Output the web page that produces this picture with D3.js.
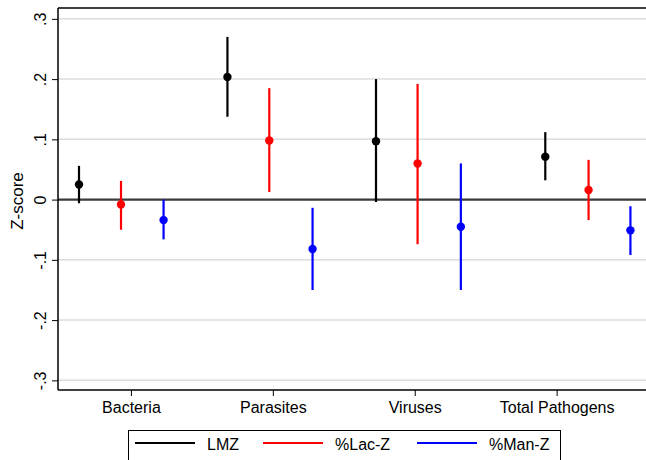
<!DOCTYPE html>
<html><head><meta charset="utf-8">
<script src="https://cdn.jsdelivr.net/npm/d3@7/dist/d3.min.js"></script>
<style>body{margin:0;background:#fff}svg{display:block}text{font-family:"Liberation Sans",Arial,sans-serif}</style>
</head><body>
<script>
const categories = ["Bacteria", "Parasites", "Viruses", "Total Pathogens"];
const categoryPos = [1, 2, 3, 4];
const yTicks = [-0.3, -0.2, -0.1, 0, 0.1, 0.2, 0.3];
const yTickLabels = ["-.3", "-.2", "-.1", "0", ".1", ".2", ".3"];
const seriesNames = ["LMZ", "%Lac-Z", "%Man-Z"];
const seriesColors = ["#000000", "#ff0000", "#0000ff"];
// x positions of each marker (axis units), per series
const lmzX = [0.634, 1.68, 2.727, 3.92];
const lacX = [0.93, 1.975, 3.02, 4.225];
const manX = [1.23, 2.28, 3.325, 4.52];
// estimates, lower and upper bounds
const lmzVal = [0.025, 0.2035, 0.097, 0.071];
const lmzLo = [-0.006, 0.1375, -0.004, 0.032];
const lmzHi = [0.056, 0.27, 0.2, 0.112];
const lacVal = [-0.008, 0.098, 0.060, 0.016];
const lacLo = [-0.050, 0.0125, -0.074, -0.034];
const lacHi = [0.031, 0.185, 0.192, 0.066];
const manVal = [-0.034, -0.082, -0.045, -0.051];
const manLo = [-0.066, -0.150, -0.150, -0.092];
const manHi = [0.0, -0.0136, 0.060, -0.011];

const W = 646, H = 460;
const L = 58, R = 646, T = 8, B = 390;
const svg = d3.select("body").append("svg").attr("width", W).attr("height", H);

const x = d3.scaleLinear().domain([0.486, 0.486 + (R - L) / 141.9]).range([L, R]);
const y = d3.scaleLinear().domain([-0.316, 0.318]).range([B, T]);

// gridlines
svg.append("g").selectAll("line").data(yTicks.filter(d => d !== 0)).join("line")
  .attr("x1", L).attr("x2", R).attr("y1", d => y(d)).attr("y2", d => y(d))
  .attr("stroke", "#dcdcdc").attr("stroke-width", 1.5);

// zero line
svg.append("line").attr("x1", L).attr("x2", R).attr("y1", y(0)).attr("y2", y(0))
  .attr("stroke", "#3a3a3a").attr("stroke-width", 2.2);

// top border
svg.append("line").attr("x1", L).attr("x2", R).attr("y1", T).attr("y2", T)
  .attr("stroke", "#000").attr("stroke-width", 1.5);

// Y axis
const yAxis = d3.axisLeft(y).tickValues(yTicks).tickFormat((d, i) => yTickLabels[i]).tickSize(6).tickPadding(4);
const gy = svg.append("g").attr("transform", `translate(${L},0)`).call(yAxis);
gy.select(".domain").attr("stroke", "#000").attr("stroke-width", 1.5).attr("d", `M0,${T}V${B}`);
gy.selectAll(".tick line").attr("stroke", "#000").attr("stroke-width", 1);
gy.selectAll(".tick text")
  .attr("font-size", 16).attr("fill", "#000")
  .attr("transform", "rotate(-90)")
  .attr("x", 0).attr("y", -12).attr("dy", "0")
  .attr("text-anchor", "middle");

// X axis
const xAxis = d3.axisBottom(x).tickValues(categoryPos).tickFormat((d, i) => categories[i]).tickSize(6).tickPadding(6);
const gx = svg.append("g").attr("transform", `translate(0,${B})`).call(xAxis);
gx.select(".domain").attr("stroke", "#000").attr("stroke-width", 1.5).attr("d", `M${L},0H${R}`);
gx.selectAll(".tick line").attr("stroke", "#000").attr("stroke-width", 1);
gx.selectAll(".tick text").attr("font-size", 16).attr("fill", "#000");

// Y label
svg.append("text").attr("transform", `translate(23,${(T + B) / 2 + 2}) rotate(-90)`)
  .attr("text-anchor", "middle").attr("font-size", 17).attr("fill", "#000").text("Z-score");

// series
const series = [
  { xs: lmzX, v: lmzVal, lo: lmzLo, hi: lmzHi },
  { xs: lacX, v: lacVal, lo: lacLo, hi: lacHi },
  { xs: manX, v: manVal, lo: manLo, hi: manHi }
];
series.forEach((s, si) => {
  const g = svg.append("g");
  const data = s.v.map((v, i) => ({ x: s.xs[i], v, lo: s.lo[i], hi: s.hi[i] }));
  g.selectAll("line").data(data).join("line")
    .attr("x1", d => x(d.x)).attr("x2", d => x(d.x))
    .attr("y1", d => y(d.lo)).attr("y2", d => y(d.hi))
    .attr("stroke", seriesColors[si]).attr("stroke-width", 2.2);
  g.selectAll("circle").data(data).join("circle")
    .attr("cx", d => x(d.x)).attr("cy", d => y(d.v)).attr("r", 4.2)
    .attr("fill", seriesColors[si]);
});

// legend
const lg = svg.append("g");
lg.append("rect").attr("x", 128.5).attr("y", 430.5).attr("width", 432).attr("height", 40)
  .attr("fill", "#fff").attr("stroke", "#000").attr("stroke-width", 1);
const legX = [135, 263, 417];
seriesNames.forEach((n, i) => {
  lg.append("line").attr("x1", legX[i]).attr("x2", legX[i] + 60).attr("y1", 443).attr("y2", 443)
    .attr("stroke", seriesColors[i]).attr("stroke-width", 2);
  lg.append("text").attr("x", legX[i] + 72).attr("y", 450).attr("font-size", 16).attr("fill", "#000").text(n);
});
</script>
</body></html>
